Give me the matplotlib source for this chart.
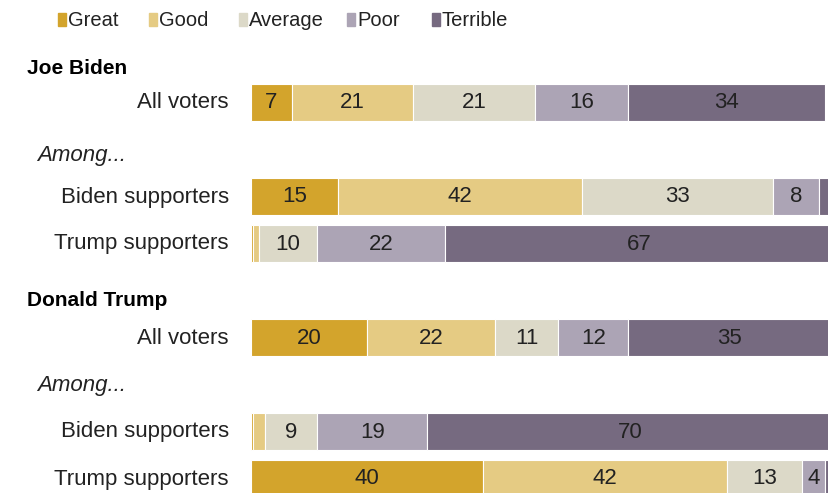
import numpy as np
import matplotlib.pyplot as plt
from matplotlib.patches import Rectangle

# Data
categories = ["Great", "Good", "Average", "Poor", "Terrible"]
colors = ["#D3A42C", "#E5CB83", "#DCD9C8", "#ACA4B5", "#766A80"]

groups = ["Joe Biden", "Donald Trump"]
rowLabels = ["All voters", "Biden supporters", "Trump supporters"]

bidenAll = [7, 21, 21, 16, 34]
bidenBidenSup = [15, 42, 33, 8, 2]
bidenTrumpSup = [0.4, 1, 10, 22, 67]
trumpAll = [20, 22, 11, 12, 35]
trumpBidenSup = [0.4, 2, 9, 19, 70]
trumpTrumpSup = [40, 42, 13, 4, 1]

# Layout (pixel rows)
W, H = 829, 493
barLeft = 251
pxPerPct = 5.80
barH = 37
rows = [
    (102, bidenAll), (196, bidenBidenSup), (243, bidenTrumpSup),
    (337, trumpAll), (431, trumpBidenSup), (478, trumpTrumpSup),
]
groupTitleY = [69, 300]
amongY = [155, 385]

fontMain = ["Liberation Sans", "DejaVu Sans"]
fontNarrow = ["Liberation Sans Narrow", "Liberation Sans", "DejaVu Sans"]

fig = plt.figure(figsize=(W / 100, H / 100), dpi=100)

# Bar axes, 0% at x=251
ax = fig.add_axes([barLeft / W, 0, (W - barLeft) / W, 1])
ax.set_xlim(0, (W - barLeft) / pxPerPct)
ax.set_ylim(H, 0)
ax.axis("off")

for yc, vals in rows:
    left = 0
    for v, c in zip(vals, colors):
        ax.barh(yc, v, left=left, height=barH, color=c, edgecolor="white", linewidth=0.8)
        if v >= 3:
            ax.text(left + v / 2, yc + 1, f"{v:g}", ha="center", va="center",
                    fontsize=16, family=fontMain, color="#222222")
        left += v

# Overlay for labels and legend
ov = fig.add_axes([0, 0, 1, 1], zorder=-1)
ov.set_xlim(0, W)
ov.set_ylim(H, 0)
ov.axis("off")

legendX = [58, 149, 239, 347, 432]
for x, c, name in zip(legendX, colors, categories):
    ov.add_patch(Rectangle((x, 13), 8, 13, color=c))
    ov.text(x + 10, 20, name, ha="left", va="center", fontsize=14.5,
            family=fontNarrow, color="#222222")

for y, g in zip(groupTitleY, groups):
    ov.text(27, y, g, ha="left", va="center", fontsize=15, fontweight="bold",
            family=fontMain, color="black")
for y in amongY:
    ov.text(37, y, "Among...", ha="left", va="center", fontsize=16,
            style="italic", family=fontMain, color="#222222")

labelsPerRow = [rowLabels[0], rowLabels[1], rowLabels[2]] * 2
for (yc, _), lab in zip(rows, labelsPerRow):
    ov.text(229, yc + 1, lab, ha="right", va="center", fontsize=16,
            family=fontMain, color="#222222")

fig.savefig("out.png", dpi=100)
